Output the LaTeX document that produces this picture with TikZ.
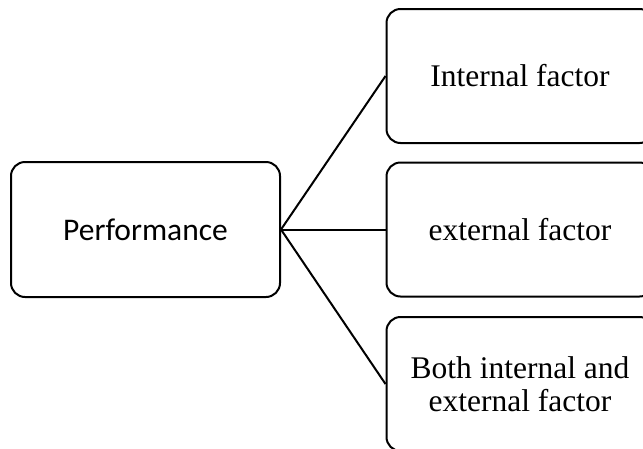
\documentclass[tikz,border=0pt]{standalone}
\usepackage{fontspec}
\setmainfont{Liberation Serif}
\newfontfamily\calib{Carlito}
\begin{document}
\begin{tikzpicture}[x=1pt,y=-1pt,
  box/.style={draw=black, line width=2pt, rounded corners=14pt, fill=white,
    minimum width=267pt, minimum height=134pt, inner sep=0pt, align=center},
  link/.style={draw=black, line width=2pt}]
\clip (0,0) rectangle (643,448);
\fill[white] (0,0) rectangle (643,448);
\node[box, minimum width=269pt, minimum height=135pt, font=\calib\fontsize{31.5}{36}\selectfont] (perf) at (145.5,229.5) {Performance};
\node[box, font=\fontsize{31.5}{33}\selectfont] (int) at (520,76) {Internal factor};
\node[box, font=\fontsize{31.5}{33}\selectfont] (ext) at (520,229.5) {external factor};
\node[box, font=\fontsize{31.5}{33}\selectfont] (both) at (520,384) {Both internal and\\external factor};
\draw[link] (perf.east) -- (int.west);
\draw[link] (perf.east) -- (ext.west);
\draw[link] (perf.east) -- (both.west);
\end{tikzpicture}
\end{document}
